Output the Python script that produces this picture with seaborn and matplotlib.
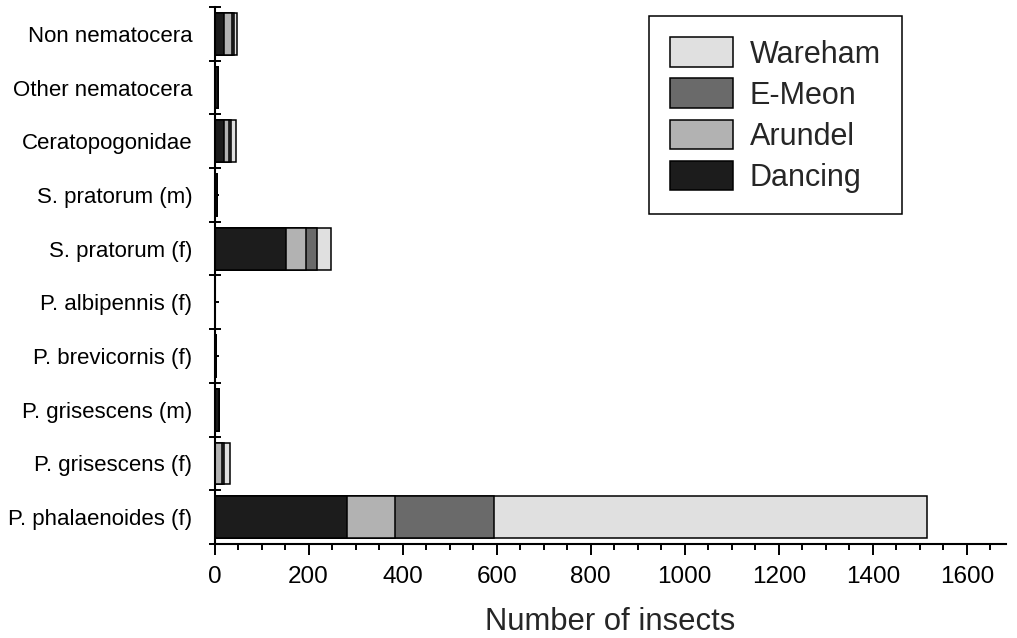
import matplotlib
matplotlib.use("Agg")
import matplotlib.pyplot as plt
import seaborn as sns
import pandas as pd
import numpy as np
from matplotlib.patches import Patch
from matplotlib.ticker import MultipleLocator, FixedLocator

# ---- data (top to bottom) ----
categories = [
    "Non nematocera",
    "Other nematocera",
    "Ceratopogonidae",
    "S. pratorum (m)",
    "S. pratorum (f)",
    "P. albipennis (f)",
    "P. brevicornis (f)",
    "P. grisescens (m)",
    "P. grisescens (f)",
    "P. phalaenoides (f)",
]
dancing = [21, 8, 20, 6, 152, 1, 3, 9, 0, 282]
arundel = [17, 0, 11, 0, 42, 0, 0, 0, 15, 101]
emeon = [4, 0, 4, 0, 23, 0, 0, 0, 6, 212]
wareham = [6, 0, 10, 0, 31, 0, 0, 0, 13, 921]

series_names = ["Dancing", "Arundel", "E-Meon", "Wareham"]
series_colors = {"Dancing": "#1c1c1c", "Arundel": "#b2b2b2",
                 "E-Meon": "#6a6a6a", "Wareham": "#e0e0e0"}

df = pd.DataFrame({"category": categories, "Dancing": dancing,
                   "Arundel": arundel, "E-Meon": emeon, "Wareham": wareham})
cum = df[series_names].cumsum(axis=1)
for s in series_names:
    df["cum_" + s] = cum[s]

sns.set_style("ticks")
plt.rcParams["font.family"] = ["Liberation Sans", "DejaVu Sans"]

fig = plt.figure(figsize=(10.17, 6.38), dpi=100)
ax = fig.add_axes([214.5 / 1017, 94 / 638, (1006 - 214.5) / 1017, 537 / 638])

for s in reversed(series_names):
    sns.barplot(data=df, x="cum_" + s, y="category", order=categories,
                orient="h", color=series_colors[s], saturation=1,
                edgecolor="black", linewidth=1.1, width=0.78,
                errorbar=None, ax=ax)

ax.set_xlim(0, 1683)
ax.set_ylim(9.5, -0.5)
sns.despine(ax=ax)
for sp in ("left", "bottom"):
    ax.spines[sp].set_linewidth(1.5)
    ax.spines[sp].set_color("black")

ax.set_ylabel("")
ax.set_xlabel("Number of insects", fontsize=22.3, labelpad=14)

ax.set_yticks(range(len(categories)))
ax.set_yticklabels(categories, fontsize=16)
ax.yaxis.set_minor_locator(FixedLocator(np.arange(-0.5, len(categories) + 0.5, 1)))
ax.tick_params(axis="y", which="major", direction="in", length=3, width=1.4,
               pad=16, colors="black")
ax.tick_params(axis="y", which="minor", direction="inout", length=8.6, width=1.4,
               color="black")

ax.xaxis.set_major_locator(MultipleLocator(200))
ax.xaxis.set_minor_locator(MultipleLocator(50))
ax.tick_params(axis="x", which="major", direction="out", length=8, width=1.4,
               labelsize=17.5, pad=7.5, colors="black")
ax.tick_params(axis="x", which="minor", direction="out", length=4.3, width=1.4,
               color="black")

handles = [Patch(facecolor=series_colors[s], edgecolor="black", linewidth=1.1, label=s)
           for s in reversed(series_names)]
leg = ax.legend(handles=handles, loc="upper right",
                bbox_to_anchor=(902 / 1017, 1 - 16 / 638),
                bbox_transform=fig.transFigure, borderaxespad=0,
                fontsize=22, handlelength=2.05, handleheight=1.12,
                handletextpad=0.55, labelspacing=0.29, borderpad=0.7,
                fancybox=False, shadow=False, framealpha=1)
leg.get_frame().set_edgecolor("black")
leg.get_frame().set_linewidth(1.1)

fig.savefig("out.png", dpi=100)
